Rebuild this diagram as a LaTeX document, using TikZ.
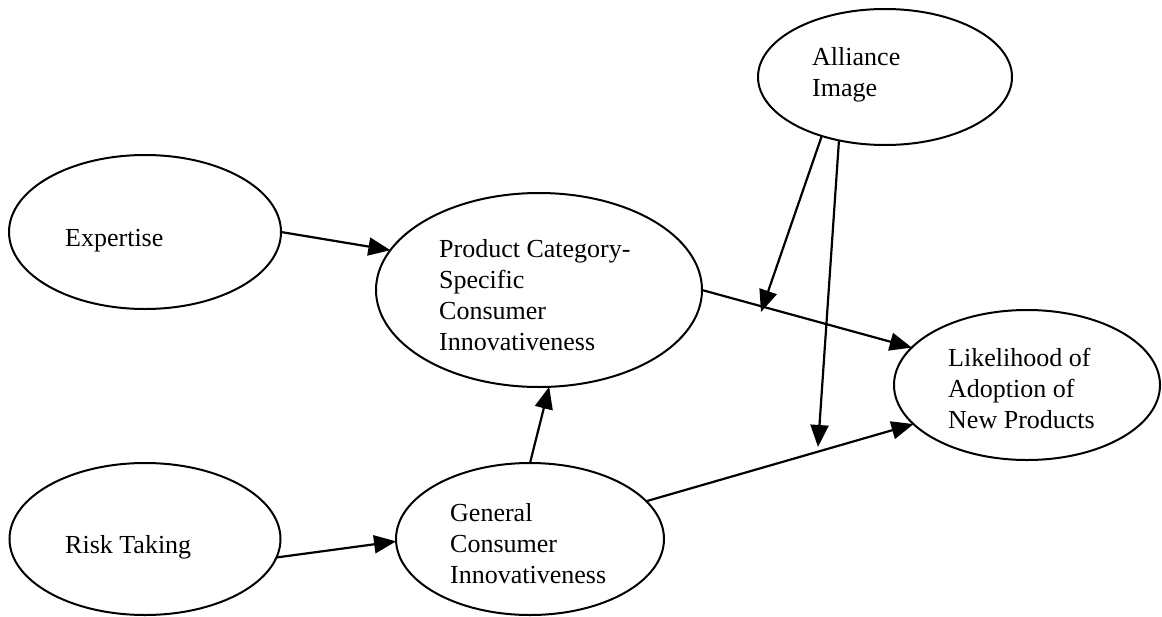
\documentclass[tikz,border=0pt]{standalone}
\usepackage{fontspec}
\setmainfont{Liberation Serif}
\usetikzlibrary{shapes.geometric,arrows.meta}
\begin{document}
\begin{tikzpicture}[x=1pt,y=-1pt,
  oval/.style={draw, ellipse, line width=2pt, inner sep=0pt, outer sep=0pt},
  lbl/.style={font=\fontsize{26}{31}\selectfont, align=left, anchor=west, inner sep=0pt},
  link/.style={line width=2.2pt, -{Triangle[length=22pt,width=18pt]}}]
\useasboundingbox (0,0) rectangle (1162,616);
\fill[white] (0,0) rectangle (1162,616);
% ellipses
\node[oval, minimum width=272pt, minimum height=154pt] (exp) at (145,232) {};
\node[oval, minimum width=326pt, minimum height=194pt] (prod) at (539,290) {};
\node[oval, minimum width=271pt, minimum height=152pt] (risk) at (145,539) {};
\node[oval, minimum width=268pt, minimum height=152pt] (gen) at (530,539) {};
\node[oval, minimum width=266pt, minimum height=150pt] (like) at (1027,385) {};
\node[oval, minimum width=254pt, minimum height=136pt] (alli) at (885,77) {};
% labels
\node[lbl] (expT) at (65,240) {\strut Expertise\strut};
\node[lbl] (prodT) at (439,298) {\strut Product Category-\\Specific\\Consumer\\Innovativeness\strut};
\node[lbl] (riskT) at (65,547) {\strut Risk Taking\strut};
\node[lbl] (genT) at (450,546) {\strut General\\Consumer\\Innovativeness\strut};
\node[lbl] (likeT) at (948,391) {\strut Likelihood of\\Adoption of\\New Products\strut};
\node[lbl] (alliT) at (812,75) {\strut Alliance\\Image\strut};
% free ends of the moderating arrows
\coordinate (m1) at (761,312);
\coordinate (m2) at (818,447);
% connectors
\draw[link] (exp.east) -- (prod.165);
\draw[link] (risk.-8) -- (gen.181);
\draw[link] (gen.north) -- (prod.-84);
\draw[link] (prod.east) -- (like.162);
\draw[link] (gen.18) -- (like.199);
\draw[link] (alli.223) -- (m1);
\draw[link] (alli.234) -- (m2);
\end{tikzpicture}
\end{document}
